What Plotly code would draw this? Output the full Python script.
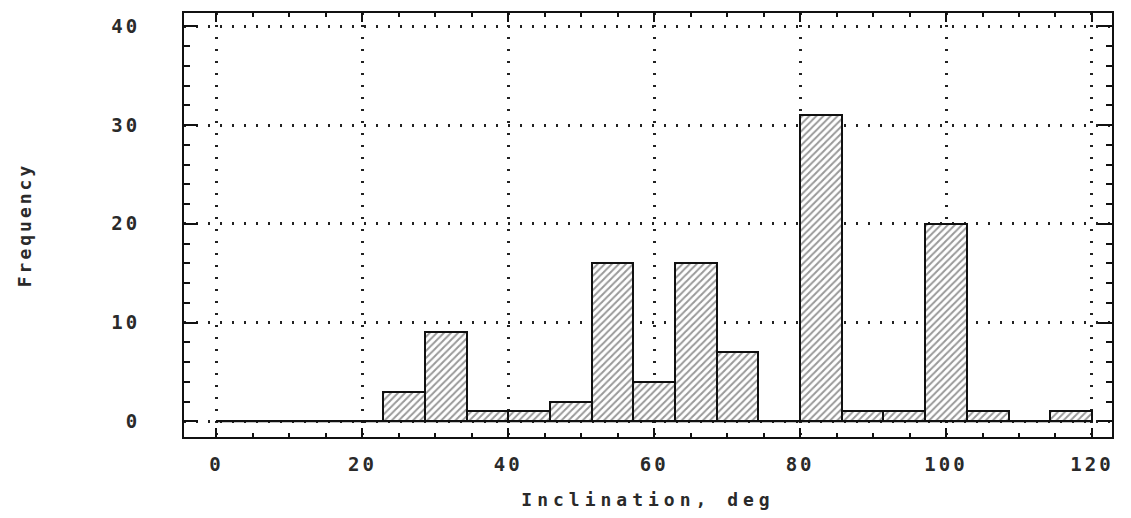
import plotly.graph_objects as go

# ---- data ----
bin_start = 0.0
bin_end = 120.0
counts = [0, 0, 0, 0, 3, 9, 1, 1, 2, 16, 4, 16, 7, 0, 31, 1, 1, 20, 1, 0, 1]
x_ticks = [0, 20, 40, 60, 80, 100, 120]
y_ticks = [0, 10, 20, 30, 40]
x_title = "Inclination, deg"
y_title = "Frequency"

n_bins = len(counts)
bin_w = (bin_end - bin_start) / n_bins
centers = [bin_start + (i + 0.5) * bin_w for i in range(n_bins)]

FONT = "DejaVu Sans Mono"
TXT = "#2a2a2a"

def spaced(s, sp):
    return f'<span style="letter-spacing:{sp}px">{s}</span>'

fig = go.Figure()
fig.add_trace(go.Scatter(
    x=[bin_start, bin_end], y=[0, 0], mode="lines",
    line=dict(color="#111", width=2), showlegend=False, hoverinfo="skip"))
fig.add_trace(go.Bar(
    x=centers, y=counts, width=bin_w,
    marker=dict(color="white",
                line=dict(color="#111", width=2),
                pattern=dict(shape="/", fgcolor="#333", bgcolor="white",
                             size=5, solidity=0.4)),
    showlegend=False))

axis_common = dict(
    showline=True, linecolor="#111", linewidth=2, mirror="ticks",
    ticks="inside", tickcolor="#111", tickwidth=2,
    showgrid=True, gridcolor="#222", gridwidth=2.5, griddash="2px,10px",
    zeroline=False,
    tickfont=dict(family=FONT, size=19, color=TXT, weight="bold"),
)

fig.update_xaxes(
    **axis_common,
    range=[-4.45, 122.75],
    tickvals=x_ticks, ticktext=[spaced(str(v), 3) for v in x_ticks],
    ticklen=9,
    minor=dict(dtick=5, tick0=0, ticks="inside", ticklen=4, tickwidth=2,
               tickcolor="#111", showgrid=False),
    ticklabelstandoff=9,
    title=dict(text=spaced(x_title, 5), font=dict(family=FONT, size=18, color=TXT, weight="bold"),
               standoff=20),
)
fig.update_yaxes(
    **axis_common,
    range=[-1.59, 41.35],
    tickvals=y_ticks, ticktext=[spaced(str(v), 3) for v in y_ticks],
    ticklen=14,
    minor=dict(dtick=2, tick0=0, ticks="inside", ticklen=6, tickwidth=2,
               tickcolor="#111", showgrid=False),
    ticklabelstandoff=38,
    title=dict(text=spaced(y_title, 3), font=dict(family=FONT, size=18, color=TXT, weight="bold"),
               standoff=75),
)

fig.update_layout(
    width=1131, height=518,
    margin=dict(l=176, r=27, t=5, b=89, autoexpand=False),
    paper_bgcolor="white", plot_bgcolor="white",
    bargap=0,
)

fig.write_html("out.html")
